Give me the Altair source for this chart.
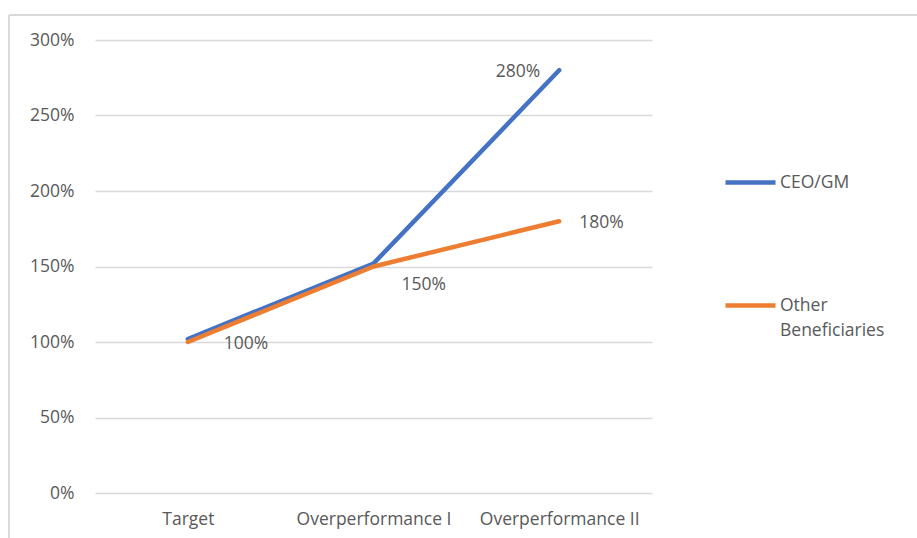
import altair as alt
import pandas as pd

categories = ["Target", "Overperformance I", "Overperformance II"]
series_names = ["CEO/GM", "Other Beneficiaries"]
ceo_values = [1.02, 1.52, 2.80]
other_values = [1.00, 1.50, 1.80]
y_ticks = [0, 0.5, 1.0, 1.5, 2.0, 2.5, 3.0]
colors = ["#4472C4", "#ED7D31"]

rows = []
for c, v in zip(categories, ceo_values):
    rows.append({"cat": c, "series": series_names[0], "value": v})
for c, v in zip(categories, other_values):
    rows.append({"cat": c, "series": series_names[1], "value": v})
df = pd.DataFrame(rows)

FONT = "Open Sans"
FS = 17.5
TXT = "#595959"
GRID = "#D9D9D9"

x_enc = alt.X("cat:N", sort=categories, title="",
              scale=alt.Scale(type="point", padding=0.5),
              axis=alt.Axis(labelAngle=0, domain=False, ticks=False, grid=False,
                            labelFont=FONT, labelFontSize=FS, labelColor=TXT,
                            labelPadding=17))
y_enc = alt.Y("value:Q", title="",
              scale=alt.Scale(domain=[0, 3], nice=False, zero=True),
              axis=alt.Axis(values=y_ticks, format=".0%", domain=False, ticks=False,
                            grid=True, gridColor=GRID, gridWidth=1.5,
                            labelFont=FONT, labelFontSize=FS, labelColor=TXT,
                            labelPadding=21))

base = alt.Chart(df)

lines = base.mark_line(strokeWidth=4.5, strokeCap="round", strokeJoin="round").encode(
    x=x_enc,
    y=y_enc,
    color=alt.Color("series:N", sort=series_names,
                    scale=alt.Scale(domain=series_names, range=colors),
                    legend=alt.Legend(orient="none", legendX=628, legendY=115,
                                      title=None, symbolType="stroke",
                                      symbolSize=2500, symbolStrokeWidth=4.5,
                                      labelFont=FONT, labelFontSize=FS,
                                      labelColor=TXT, labelOffset=2,
                                      rowPadding=86, labelBaseline="middle",
                                      labelExpr="datum.label == 'Other Beneficiaries' ? ['Other', 'Beneficiaries'] : datum.label")),
)

def label_layer(series, cat, dx, dy, align):
    return base.transform_filter(
        (alt.datum.series == series) & (alt.datum.cat == cat)
    ).mark_text(font=FONT, fontSize=FS, color=TXT, align=align,
                baseline="middle", dx=dx, dy=dy).encode(
        x=alt.X("cat:N", sort=categories),
        y=alt.Y("value:Q"),
        text=alt.Text("value:Q", format=".0%"),
    )

labels = [
    label_layer(series_names[1], categories[0], 36, 2, "left"),
    label_layer(series_names[1], categories[1], 28, 18, "left"),
    label_layer(series_names[1], categories[2], 20, 2, "left"),
    label_layer(series_names[0], categories[2], -19, 2, "right"),
]

frame_df = pd.DataFrame({"k": [0]})
top_border = alt.Chart(frame_df).mark_rule(color=GRID, strokeWidth=2).encode(
    x=alt.value(-86), x2=alt.value(830), y=alt.value(-25))
left_border = alt.Chart(frame_df).mark_rule(color=GRID, strokeWidth=2).encode(
    x=alt.value(-86), y=alt.value(-25), y2=alt.value(500))

chart = alt.layer(top_border, left_border, lines, *labels).properties(
    width=557, height=453,
    padding={"left": 95, "top": 40, "right": 265, "bottom": 45},
    autosize=alt.AutoSizeParams(type="none"),
    background="white",
).configure(
    style={"guide-label": {"lineHeight": 25}},
    view=alt.ViewConfig(stroke=None),
)

chart.save("out.html", embed_options={"renderer": "svg", "actions": False})
